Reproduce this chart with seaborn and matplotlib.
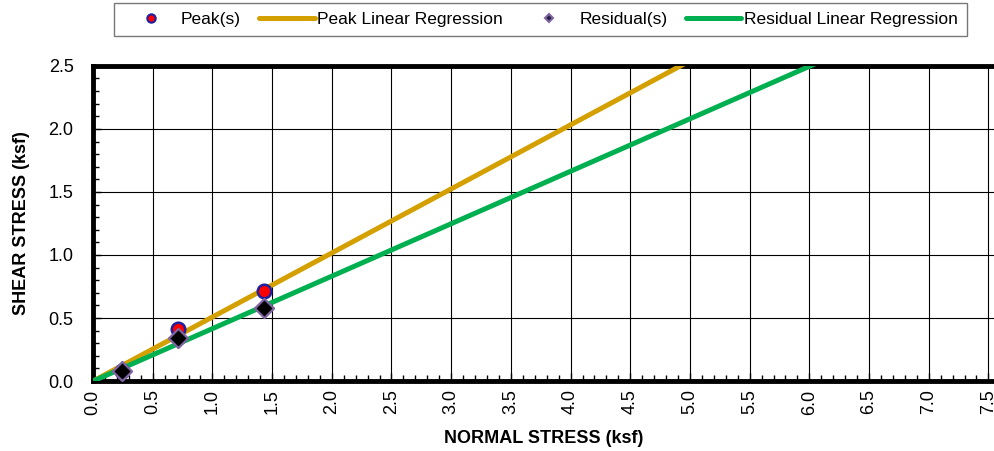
import numpy as np
import pandas as pd
import matplotlib
matplotlib.use("Agg")
import matplotlib.pyplot as plt
from matplotlib.ticker import MultipleLocator
from matplotlib.lines import Line2D
import seaborn as sns

# Direct shear test results
normal_stress = [0.243, 0.712, 1.432]
peak_shear = [0.08, 0.413, 0.714]
residual_shear = [0.08, 0.341, 0.579]

# Regression fits (shear = slope * normal + intercept)
peak_slope, peak_intercept = 0.508, 0.0
residual_slope, residual_intercept = 0.416, 0.0

x_ticks = np.arange(0, 7.51, 0.5)
y_ticks = np.arange(0, 2.51, 0.5)

sns.set_theme(style="white")
plt.rcParams["font.family"] = ["Liberation Sans", "DejaVu Sans"]
plt.rcParams["text.color"] = "black"
plt.rcParams["axes.labelcolor"] = "black"

fig = plt.figure(figsize=(9.95, 4.51), dpi=100)
ax = fig.add_axes([0.0935, 0.155, 0.9065, 0.699])

fit_x = np.array([0.0, 7.6])
fits = pd.DataFrame({
    "x": np.concatenate([fit_x, fit_x]),
    "y": np.concatenate([peak_slope * fit_x + peak_intercept,
                         residual_slope * fit_x + residual_intercept]),
    "series": ["Peak Linear Regression"] * 2 + ["Residual Linear Regression"] * 2,
})
sns.lineplot(data=fits, x="x", y="y", hue="series",
             palette={"Peak Linear Regression": "#D4A000",
                      "Residual Linear Regression": "#00B050"},
             linewidth=3.6, legend=False, ax=ax, zorder=3)

sns.scatterplot(x=normal_stress, y=peak_shear, marker="o", s=95,
                color="#FF0000", edgecolor="#1F1F9F", linewidth=1.8,
                ax=ax, zorder=4, legend=False)
sns.scatterplot(x=normal_stress, y=residual_shear, marker="D", s=95,
                color="#000000", edgecolor="#8064A2", linewidth=1.6,
                ax=ax, zorder=5, legend=False)

ax.set_xlim(0, 7.555)
ax.set_ylim(0, 2.5)
ax.set_xticks(x_ticks)
ax.set_yticks(y_ticks)
ax.set_xticklabels([f"{v:.1f}" for v in x_ticks], rotation=90)
ax.set_yticklabels([f"{v:.1f}" for v in y_ticks])
ax.xaxis.set_minor_locator(MultipleLocator(0.1))
ax.yaxis.set_minor_locator(MultipleLocator(0.1))
ax.tick_params(axis="both", which="major", direction="in", length=6,
               width=1, labelsize=13, color="black", labelcolor="black")
ax.tick_params(axis="x", which="major", pad=6)
ax.tick_params(axis="y", which="major", pad=14)
ax.tick_params(axis="both", which="minor", direction="in", length=4,
               width=1, color="black")
ax.tick_params(axis="x", which="both", bottom=True)
ax.tick_params(axis="y", which="both", left=True)
ax.grid(True, which="major", color="black", linewidth=0.8)
ax.set_axisbelow(True)

for side in ["left", "bottom", "top"]:
    ax.spines[side].set_visible(True)
    ax.spines[side].set_color("black")
    ax.spines[side].set_linewidth(3.5)
ax.spines["right"].set_visible(False)

ax.set_xlabel("NORMAL STRESS (ksf)", fontsize=13, fontweight="bold", labelpad=11)
ax.set_ylabel("SHEAR STRESS (ksf)", fontsize=13, fontweight="bold", labelpad=13)

handles = [
    Line2D([], [], linestyle="none", marker="o", markersize=6,
           markerfacecolor="#FF0000", markeredgecolor="#1F1F9F", markeredgewidth=1.5),
    Line2D([], [], color="#D4A000", linewidth=3.6),
    Line2D([], [], linestyle="none", marker="D", markersize=4.5,
           markerfacecolor="#1F1F3F", markeredgecolor="#8064A2", markeredgewidth=1.5),
    Line2D([], [], color="#00B050", linewidth=3.6),
]
labels = ["Peak(s)", "Peak Linear Regression", "Residual(s)", "Residual Linear Regression"]
leg = fig.legend(handles, labels, ncol=4, loc="center", bbox_to_anchor=(0.543, 0.957),
                 fontsize=12.5, frameon=True, fancybox=False, handlelength=3.2,
                 handletextpad=0.15, columnspacing=1.05, borderpad=0.5,
                 borderaxespad=0)
leg.get_frame().set_edgecolor("#555555")
leg.get_frame().set_linewidth(1.0)

fig.savefig("out.png", dpi=100)
